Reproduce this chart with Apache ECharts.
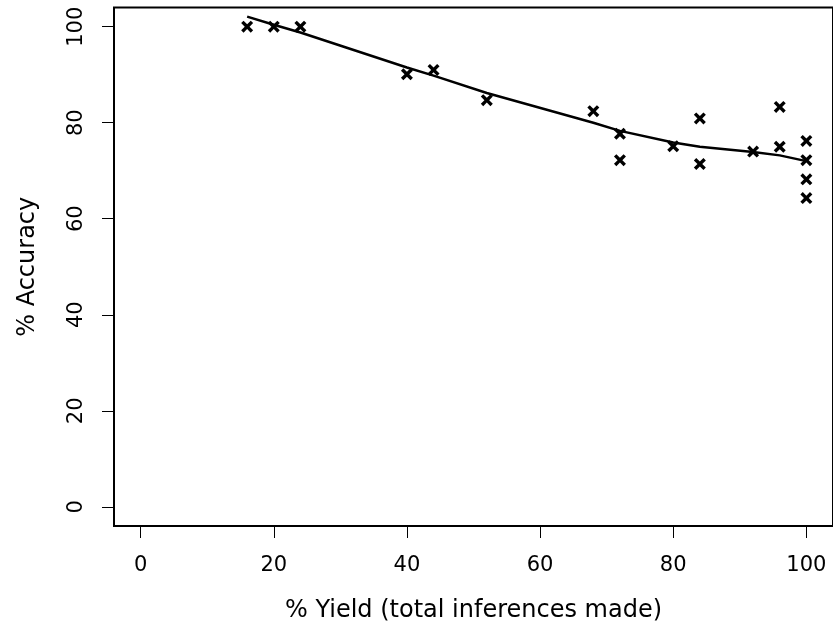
<!DOCTYPE html>
<html>
<head>
<meta charset="utf-8">
<script src="https://cdn.jsdelivr.net/npm/echarts@6/dist/echarts.min.js"></script>
<style>
  html, body { margin: 0; padding: 0; background: #fff; }
  #chart { width: 833px; height: 630px; }
</style>
</head>
<body>
<div id="chart"></div>
<script>
// observed points
var yieldX = [16, 20, 24, 40, 44, 52, 68, 72, 72, 80, 84, 84, 92, 96, 96, 100, 100, 100, 100];
var accuracyY = [100, 100, 100, 90.1, 91.0, 84.7, 82.4, 77.7, 72.2, 75.1, 80.9, 71.4, 74.0, 83.3, 75.0, 76.2, 72.2, 68.2, 64.3];

// smoothed fit
var fitX = [16, 20, 24, 40, 44, 52, 68, 72, 80, 84, 92, 96, 100];
var fitY = [102.1, 100.4, 98.8, 91.5, 89.8, 86.2, 80.0, 78.3, 75.9, 75.0, 73.9, 73.2, 72.0];

var tickValues = [0, 20, 40, 60, 80, 100];

var pts = [];
for (var i = 0; i < yieldX.length; i++) {
  pts.push([yieldX[i], accuracyY[i]]);
}
var fit = [];
for (var j = 0; j < fitX.length; j++) {
  fit.push([fitX[j], fitY[j]]);
}

// filled "x" glyph
var crossPath = "path://M0,2 L2,0 L5,3 L8,0 L10,2 L7,5 L10,8 L8,10 L5,7 L2,10 L0,8 L3,5 Z";

var myChart = echarts.init(document.getElementById("chart"));
myChart.setOption({
  animation: false,
  textStyle: { fontFamily: "DejaVu Sans", color: "#000" },
  grid: {
    left: 114,
    right: 0,
    top: 7.5,
    bottom: 104,
    show: true,
    borderColor: "#000",
    borderWidth: 2,
    backgroundColor: "#fff",
  },
  xAxis: {
    type: "value",
    min: -4,
    max: 104,
    name: "% Yield (total inferences made)",
    nameLocation: "middle",
    nameGap: 73,
    nameTextStyle: { fontSize: 24, color: "#000", fontFamily: "DejaVu Sans" },
    axisLine: { show: false, onZero: false },
    splitLine: { show: false },
    axisTick: {
      show: true,
      length: 12,
      customValues: tickValues,
      lineStyle: { color: "#000", width: 1 },
    },
    axisLabel: {
      customValues: tickValues,
      margin: 29,
      fontSize: 21,
      color: "#000",
      fontFamily: "DejaVu Sans",
    },
  },
  yAxis: {
    type: "value",
    min: -4,
    max: 104,
    name: "% Accuracy",
    nameLocation: "middle",
    nameGap: 74,
    nameTextStyle: { fontSize: 24, color: "#000", fontFamily: "DejaVu Sans" },
    axisLine: { show: false, onZero: false },
    splitLine: { show: false },
    axisTick: {
      show: true,
      length: 12,
      customValues: tickValues,
      lineStyle: { color: "#000", width: 1 },
    },
    axisLabel: {
      customValues: tickValues,
      rotate: 90,
      margin: 27,
      fontSize: 21,
      color: "#000",
      fontFamily: "DejaVu Sans",
    },
  },
  series: [
    {
      name: "fit",
      type: "line",
      data: fit,
      showSymbol: false,
      smooth: false,
      lineStyle: { color: "#000", width: 2.5 },
      z: 2,
    },
    {
      name: "points",
      type: "scatter",
      data: pts,
      symbol: crossPath,
      symbolSize: 12,
      itemStyle: { color: "#000", opacity: 1 },
      z: 3,
    },
  ],
});
</script>
</body>
</html>
